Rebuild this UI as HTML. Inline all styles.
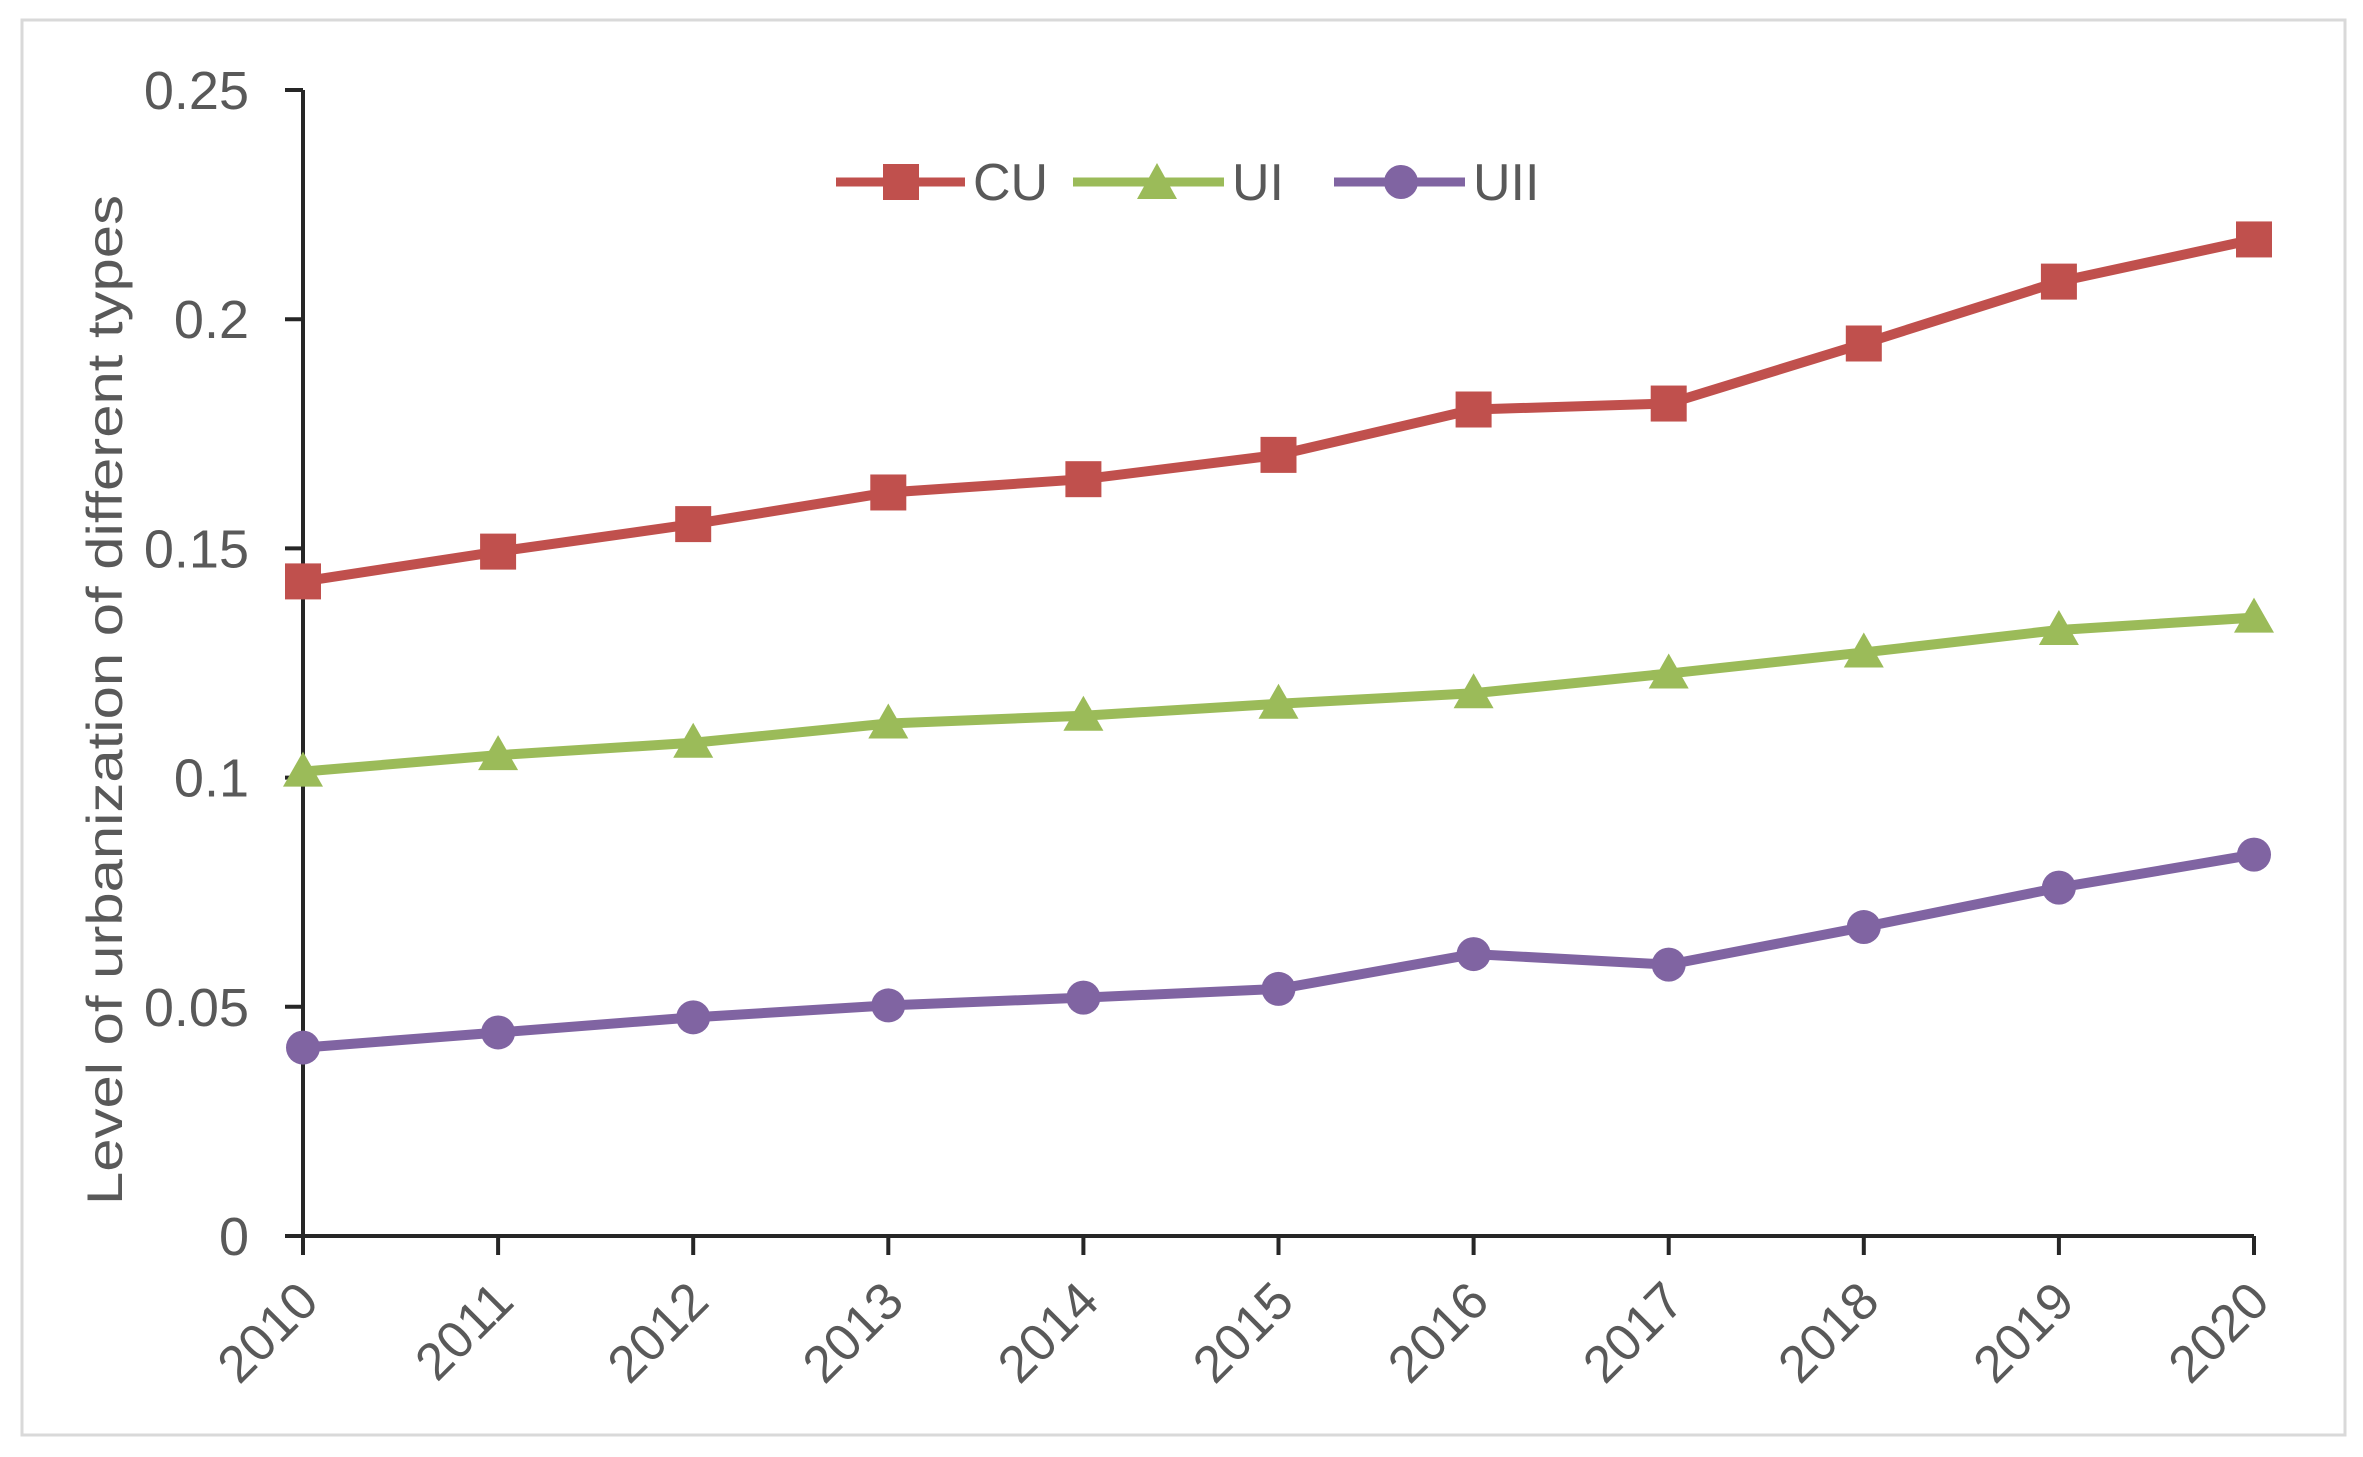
<!DOCTYPE html>
<html><head><meta charset="utf-8"><style>
html,body{margin:0;padding:0;background:#fff;}
svg{display:block;font-family:"Liberation Sans",sans-serif;}
</style></head><body>
<svg id="chart" width="2363" height="1457" viewBox="0 0 2363 1457">
<rect x="22" y="20" width="2323" height="1415" fill="#fff" stroke="#d9d9d9" stroke-width="3"/>
<g id="axes"></g>
<g id="series"></g>
<text transform="translate(122,700) rotate(-90)" text-anchor="middle" font-size="50" fill="#595959" textLength="1010" lengthAdjust="spacingAndGlyphs">Level of urbanization of different types</text>
<g>
<g>
<line x1="836" y1="182" x2="965" y2="182" stroke="#C0504D" stroke-width="9"/>
<rect x="883" y="164" width="36" height="36" fill="#C0504D"/>
<text x="973" y="200" font-size="52" fill="#595959">CU</text></g>
<g>
<line x1="1073" y1="182" x2="1224" y2="182" stroke="#9BBB59" stroke-width="9"/>
<polygon points="1157,163 1177,199 1137,199" fill="#9BBB59"/>
<text x="1232" y="200" font-size="52" fill="#595959">UI</text></g>
<g>
<line x1="1334" y1="182" x2="1465" y2="182" stroke="#8064A2" stroke-width="9"/>
<circle cx="1401" cy="182" r="17" fill="#8064A2"/>
<text x="1473" y="200" font-size="52" fill="#595959">UII</text></g>
</g>
</svg>
<script>
const years = ["2010","2011","2012","2013","2014","2015","2016","2017","2018","2019","2020"];
const cuValues = [0.1428,0.1493,0.1553,0.1622,0.1651,0.1704,0.1803,0.1816,0.1947,0.2082,0.2174];
const uiValues = [0.1013,0.1049,0.1076,0.1118,0.1135,0.1161,0.1184,0.1227,0.1273,0.1322,0.1349];
const uiiValues = [0.0411,0.0444,0.0477,0.0503,0.0520,0.0539,0.0615,0.0592,0.0674,0.0760,0.0832];
const yTicks = [0,0.05,0.1,0.15,0.2,0.25];
const yTickLabels = ["0","0.05","0.1","0.15","0.2","0.25"];

const NS="http://www.w3.org/2000/svg";
const X0=303,X1=2254,Y0=1236,Y1=90,YMAX=0.25;
function xs(i){return X0+(X1-X0)*i/(years.length-1);}
function ys(v){return Y0-(Y0-Y1)*v/YMAX;}
function mk(tag,attrs,parent){const e=document.createElementNS(NS,tag);for(const k in attrs)e.setAttribute(k,attrs[k]);parent.appendChild(e);return e;}
const axes=document.getElementById('axes');
const series=document.getElementById('series');

const ya=mk('line',{x1:X0,y1:Y1,x2:X0,y2:Y0,stroke:'#262626','stroke-width':4},axes);


const xa=mk('line',{x1:X0-18,y1:Y0,x2:X1,y2:Y0,stroke:'#262626','stroke-width':4},axes);



yTicks.forEach((t,i)=>{
  const y=ys(t);
  const tk=mk('line',{x1:X0-18,y1:y,x2:X0,y2:y,stroke:'#262626','stroke-width':4},axes);
  
  
  const lb=mk('text',{x:249,y:y+19,'text-anchor':'end','font-size':54,fill:'#595959'},axes);
  lb.textContent=yTickLabels[i];
  
  
});
years.forEach((yr,i)=>{
  const x=xs(i);
  const tk=mk('line',{x1:x,y1:Y0,x2:x,y2:Y0+19,stroke:'#262626','stroke-width':4},axes);
  
  
  const lb=mk('text',{transform:`translate(${x+18},${Y0+68}) rotate(-45)`,'text-anchor':'end','font-size':52,fill:'#595959'},axes);
  lb.textContent=yr;
  
  
});

function drawSeries(vals,color,shape,name){
  const g=mk('g',{},series);
  
  
  const pts=vals.map((v,i)=>xs(i)+','+ys(v)).join(' ');
  const pl=mk('polyline',{points:pts,fill:'none',stroke:color,'stroke-width':10,'stroke-linejoin':'round'},g);
  
  
  vals.forEach((v,i)=>{
    const x=xs(i),y=ys(v);let m;
    if(shape==='square')m=mk('rect',{x:x-18,y:y-18,width:36,height:36,fill:color},g);
    else if(shape==='triangle')m=mk('polygon',{points:`${x},${y-20} ${x+20},${y+15} ${x-20},${y+15}`,fill:color},g);
    else m=mk('circle',{cx:x,cy:y,r:17,fill:color},g);
    
    
  });
}
drawSeries(cuValues,'#C0504D','square','cu');
drawSeries(uiValues,'#9BBB59','triangle','ui');
drawSeries(uiiValues,'#8064A2','circle','uii');
</script>
</body></html>
